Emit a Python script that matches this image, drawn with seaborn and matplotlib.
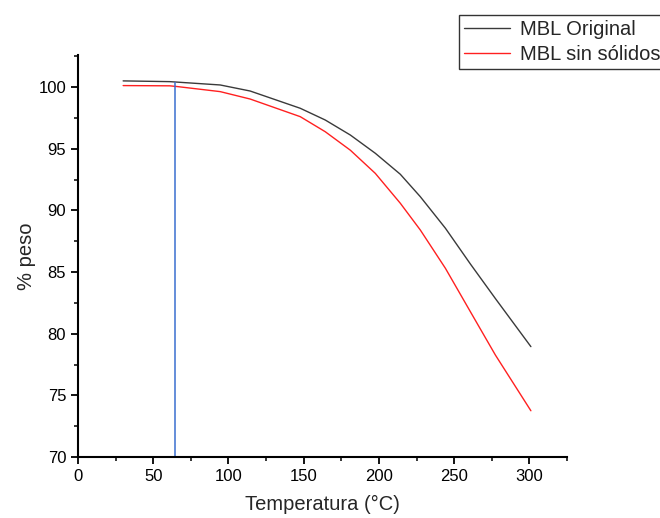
import matplotlib
matplotlib.use("Agg")
import matplotlib.pyplot as plt
from matplotlib.ticker import MultipleLocator
from matplotlib.lines import Line2D
import seaborn as sns
import pandas as pd

# Data
temp_original = [30, 61, 94.5, 114.4, 147.7, 164.3, 181, 197.6, 214.2, 227.5, 244.2, 260.8, 277.4, 301]
peso_original = [100.5, 100.44, 100.17, 99.68, 98.28, 97.33, 96.11, 94.63, 92.93, 91.11, 88.55, 85.65, 82.85, 78.95]

temp_sin = [30, 61, 66, 94.5, 114.4, 147.7, 164.3, 181, 197.6, 214.2, 227.5, 244.2, 260.8, 277.4, 301]
peso_sin = [100.12, 100.1, 100.04, 99.63, 99.03, 97.6, 96.38, 94.88, 93.0, 90.58, 88.41, 85.3, 81.78, 78.27, 73.75]

series_names = ["MBL Original", "MBL sin sólidos"]
marker_temp = 64.5
marker_top = 100.45

df = pd.concat([
    pd.DataFrame({"Temperatura": temp_original, "peso": peso_original, "serie": series_names[0]}),
    pd.DataFrame({"Temperatura": temp_sin, "peso": peso_sin, "serie": series_names[1]}),
])

sns.set_style("ticks")
plt.rcParams["font.family"] = ["Liberation Sans", "DejaVu Sans"]

fig = plt.figure(figsize=(6.6, 5.18), dpi=100)
ax = fig.add_axes([78/660, 1-457/518, (567-78)/660, (457-55)/518])

colors = {series_names[0]: "#3a3a3a", series_names[1]: "#ff2020"}
sns.lineplot(data=df, x="Temperatura", y="peso", hue="serie",
             palette=colors, linewidth=1.0, ax=ax, legend=False, sort=True)

ax.vlines(marker_temp, 70, marker_top, color="#3b6fd0", linewidth=1.1)

ax.set_xlim(0, 325)
ax.set_ylim(70, 102.6)
ax.xaxis.set_major_locator(MultipleLocator(50))
ax.xaxis.set_minor_locator(MultipleLocator(25))
ax.yaxis.set_major_locator(MultipleLocator(5))
ax.yaxis.set_minor_locator(MultipleLocator(2.5))
ax.tick_params(which="major", direction="out", length=5, width=1.3, labelsize=12, colors="black")
ax.tick_params(which="minor", direction="out", length=3, width=1.3)
for s in ["top", "right"]:
    ax.spines[s].set_visible(False)
for s in ["left", "bottom"]:
    ax.spines[s].set_linewidth(1.5)
    ax.spines[s].set_color("black")

ax.set_xlabel("Temperatura (°C)", fontsize=14.5, labelpad=8)
ax.set_ylabel("% peso", fontsize=14.5, labelpad=2)

handles = [Line2D([], [], color=colors[n], lw=1.0) for n in series_names]
leg = fig.legend(handles, series_names, loc="upper left",
                 bbox_to_anchor=(459/660, 1-15/518), fontsize=14.5,
                 frameon=True, fancybox=False, edgecolor="black",
                 borderpad=0.25, handlelength=2.3, handletextpad=0.5,
                 labelspacing=0.3, borderaxespad=0)
leg.get_frame().set_linewidth(1.0)

fig.savefig("out.png", dpi=100)
